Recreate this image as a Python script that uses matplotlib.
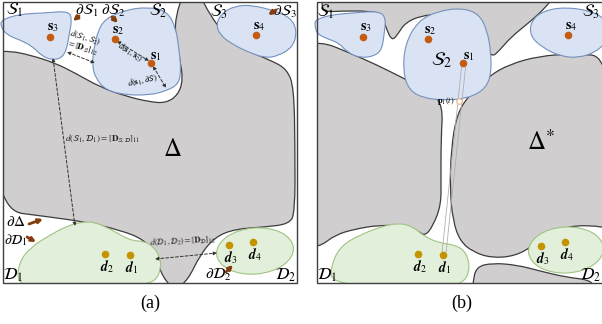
import matplotlib
matplotlib.use("Agg")
import matplotlib.pyplot as plt
import numpy as np
from matplotlib.path import Path
from matplotlib.patches import PathPatch, Ellipse, Rectangle

plt.rcParams["mathtext.fontset"] = "stix"
plt.rcParams["font.family"] = ["Liberation Serif", "DejaVu Serif"]

# --- shapes (pixel coordinates, y downwards) -------------------------------
frame_a = (3, 2, 294, 281)
frame_b = (317, 2, 290, 281)

delta_a = [(-5, 52), (10, 51), (30, 55), (55, 63), (75, 73), (100, 87), (125, 96),
           (150, 102), (166, 103), (178, 95), (183, 80), (180, 60), (175, 35),
           (176, 15), (183, -5), (200, -5), (210, 15), (225, 35), (245, 50),
           (270, 60), (287, 69), (294, 88), (295, 150), (295, 213), (289, 224),
           (265, 227), (235, 229), (215, 237), (200, 255), (188, 280), (175, 290),
           (163, 278), (155, 255), (145, 240), (120, 230), (85, 222), (50, 217),
           (-5, 210)]
S1_a = [(1, 20), (20, 14), (45, 13), (69, 11), (72, 20), (69, 35), (67, 48),
        (62, 58), (52, 60), (42, 56), (32, 46), (20, 40), (7, 35), (1, 27)]
S2_a = [(105, 19), (125, 10), (148, 7), (167, 11), (176, 28), (179, 50),
        (181, 68), (179, 84), (166, 91), (150, 95), (125, 95), (106, 90),
        (96, 79), (92, 65), (94, 48), (98, 31)]
S3_a = [(222, 13), (235, 6), (252, 5), (275, 11), (291, 18), (297, 31),
        (293, 47), (278, 56), (265, 58), (248, 52), (232, 44), (220, 35),
        (216, 24)]
D1_a = [(17, 284), (19, 262), (31, 247), (50, 235), (67, 226), (82, 222),
        (95, 222), (112, 230), (124, 237), (134, 241), (143, 241), (153, 246),
        (160, 257), (161, 268), (156, 281), (140, 285), (100, 286), (40, 286)]
D2_a = (255, 251, 77, 46, -5)

gray_top_b = [(322, 9), (322, -6), (556, -6), (546, 7), (531, 21), (511, 37),
              (499, 51), (492, 57), (485, 46), (481, 28), (476, 16), (465, 13),
              (440, 14), (420, 16), (405, 23), (398, 34), (392, 41), (386, 28),
              (382, 14), (370, 11), (340, 11), (327, 12)]
gray_left_b = [(310, 44), (325, 43), (345, 51), (375, 64), (405, 79), (430, 92),
               (443, 105), (441, 140), (441, 180), (441, 205), (433, 226),
               (425, 236), (418, 231), (405, 226), (380, 225), (355, 229),
               (335, 235), (321, 246), (310, 246)]
gray_right_b = [(451, 150), (457, 113), (471, 93), (489, 76), (510, 64),
                (540, 56), (570, 54), (612, 56), (612, 229), (590, 225),
                (565, 227), (548, 233), (533, 246), (515, 256), (492, 258),
                (473, 252), (460, 241), (453, 221), (450, 190)]
gray_bot_b = [(473, 283), (476, 267), (492, 263), (517, 265), (540, 271),
              (565, 277), (590, 280), (594, 287), (473, 287)]
S1_b = [(315, 20), (330, 15), (352, 13), (379, 11), (386, 18), (384, 35),
        (382, 49), (375, 56), (360, 58), (347, 52), (339, 43), (328, 39),
        (317, 34), (315, 26)]
S2_b = [(418, 21), (438, 11), (462, 8), (479, 14), (487, 30), (491, 52),
        (491, 77), (483, 91), (465, 99), (443, 100), (423, 98), (409, 90),
        (403, 72), (405, 44)]
S3_b = [(531, 21), (543, 11), (565, 7), (591, 11), (607, 20), (607, 41),
        (596, 52), (578, 58), (560, 56), (543, 48), (530, 36)]
D1_b = [(330, 284), (332, 262), (342, 245), (360, 235), (380, 227), (398, 223),
        (412, 226), (425, 237), (440, 243), (455, 245), (465, 251), (470, 265),
        (466, 281), (450, 286), (400, 286)]
D2_b = (566, 250, 75, 46, -3)

# points
s_a = [(50, 37), (115, 39), (151, 63), (256, 35)]
s_a_names = ["3", "2", "1", "4"]
s_a_lab = [(53, 28), (118, 31), (156, 57), (259, 27)]
d_a = [(105, 254), (130, 255), (229, 245), (253, 242)]
d_a_names = ["2", "1", "3", "4"]
s_b = [(363, 37), (428, 39), (463, 63), (568, 35)]
s_b_names = ["3", "2", "1", "4"]
s_b_lab = [(366, 28), (430, 31), (469, 57), (571, 27)]
d_b = [(418, 254), (443, 255), (541, 246), (565, 242)]
d_b_names = ["2", "1", "3", "4"]

GRAY, GRAY_EDGE = "#d0cece", "#3c3c3c"
BLUE, BLUE_EDGE = "#dae3f3", "#7391bf"
GREEN, GREEN_EDGE = "#e2efda", "#a0c383"
S_DOT, D_DOT, BROWN = "#c55a11", "#c49400", "#843c0c"


def blob(pts):
    pts = np.asarray(pts, float)
    mids = (pts + np.roll(pts, -1, axis=0)) / 2
    verts, codes = [mids[-1]], [Path.MOVETO]
    for p, m in zip(pts, mids):
        verts += [p, m]
        codes += [Path.CURVE3, Path.CURVE3]
    verts.append(mids[-1])
    codes.append(Path.CLOSEPOLY)
    return Path(verts, codes)


fig = plt.figure(figsize=(6.02, 3.24), dpi=100)
ax = fig.add_axes([0, 0, 1, 1])
ax.set_xlim(0, 602)
ax.set_ylim(324, 0)
ax.axis("off")

for fr, grays, blues, greens, ell in (
    (frame_a, [delta_a], [S1_a, S2_a, S3_a], [D1_a], D2_a),
    (frame_b, [gray_top_b, gray_left_b, gray_right_b, gray_bot_b],
     [S1_b, S2_b, S3_b], [D1_b], D2_b),
):
    rect = Rectangle(fr[:2], fr[2], fr[3], fc="white", ec="none")
    ax.add_patch(rect)
    for g in grays:
        p = PathPatch(blob(g), fc=GRAY, ec=GRAY_EDGE, lw=0.9)
        ax.add_patch(p)
        p.set_clip_path(rect)
    for b in blues:
        ax.add_patch(PathPatch(blob(b), fc=BLUE, ec=BLUE_EDGE, lw=0.8))
    for g in greens:
        p = PathPatch(blob(g), fc=GREEN, ec=GREEN_EDGE, lw=0.8)
        ax.add_patch(p)
        p.set_clip_path(rect)
    e = Ellipse(ell[:2], ell[2], ell[3], angle=ell[4], fc=GREEN, ec=GREEN_EDGE, lw=0.8)
    ax.add_patch(e)
    e.set_clip_path(rect)
    ax.add_patch(Rectangle(fr[:2], fr[2], fr[3], fc="none", ec="#404040", lw=1.0))

# s1 -> d1 paths in (b), drawn before dots
ax.plot([462, 442], [63, 253], color="#b0b0b0", lw=0.6)
ax.plot([466, 446], [63, 253], color="#b0b0b0", lw=0.6)
ax.plot([459], [101], "o", ms=4, mfc="white", mec="#f4b183", mew=0.8)
ax.text(446, 101, r"$\mathbf{p}_1(t)$", fontsize=6, ha="center", va="center")

for pts, names, labs in ((s_a, s_a_names, s_a_lab), (s_b, s_b_names, s_b_lab)):
    xs, ys = zip(*pts)
    ax.scatter(xs, ys, s=30, color=S_DOT, zorder=5, lw=0)
    for (lx, ly), n in zip(labs, names):
        ax.text(lx, ly, r"$\mathbf{s}_%s$" % n, fontsize=10, ha="center", va="center")
for pts, names in ((d_a, d_a_names), (d_b, d_b_names)):
    xs, ys = zip(*pts)
    ax.scatter(xs, ys, s=30, color=D_DOT, zorder=5, lw=0)
    for (x, y), n in zip(pts, names):
        ax.text(x + 2, y + 13, r"$\mathbfit{d}_%s$" % n, fontsize=10, ha="center", va="center")

# region labels
labels = [
    (15, 10, r"$\mathcal{S}_1$", 12), (87, 11, r"$\partial\mathcal{S}_1$", 11),
    (113, 11, r"$\partial\mathcal{S}_2$", 11), (158, 11, r"$\mathcal{S}_2$", 12),
    (219, 12, r"$\mathcal{S}_3$", 12), (285, 12, r"$\partial\mathcal{S}_3$", 11),
    (16, 222, r"$\partial\Delta$", 11), (16, 240, r"$\partial\mathcal{D}_1$", 10),
    (13, 275, r"$\mathcal{D}_1$", 12), (218, 275, r"$\partial\mathcal{D}_2$", 11),
    (286, 275, r"$\mathcal{D}_2$", 12),
    (326, 12, r"$\mathcal{S}_1$", 12), (442, 60, r"$\mathcal{S}_2$", 14),
    (591, 12, r"$\mathcal{S}_3$", 12), (327, 275, r"$\mathcal{D}_1$", 12),
    (591, 275, r"$\mathcal{D}_2$", 12),
]
for x, y, t, fs in labels:
    ax.text(x, y, t, fontsize=fs, ha="center", va="center")
ax.text(172, 150, r"$\Delta$", fontsize=18, ha="center", va="center")
ax.text(541, 142, r"$\Delta^{*}$", fontsize=18, ha="center", va="center")

# brown pointer arrows
brown_arrows = [((79, 16), (73, 21)), ((112, 17), (118, 23)), ((276, 10), (268, 15)),
                ((29, 224), (43, 219)), ((27, 237), (36, 242)), ((226, 272), (233, 265))]
for tail, tip in brown_arrows:
    ax.annotate("", xy=tip, xytext=tail,
                arrowprops=dict(arrowstyle="-|>", color=BROWN, lw=2.0, mutation_scale=6,
                                shrinkA=0, shrinkB=0))

# dashed distance arrows
dashed = [((53, 58), (75, 226)), ((67, 52), (95, 63)), ((117, 41), (149, 61)),
          ((153, 66), (166, 88)), ((155, 259), (217, 253))]
for a, b in dashed:
    ax.annotate("", xy=b, xytext=a,
                arrowprops=dict(arrowstyle="<|-|>", color="#333333", lw=0.7, ls=(0, (3, 2)),
                                mutation_scale=5, shrinkA=0, shrinkB=0))

ax.text(103, 139, r"$d(\mathcal{S}_1,\mathcal{D}_1)=[\mathbf{D}_{\mathcal{S},\mathcal{D}}]_{11}$",
        fontsize=6.5, ha="center", va="center", color="#222222")
ax.text(183, 241, r"$d(\mathcal{D}_1,\mathcal{D}_2)=[\mathbf{D}_{\mathcal{D}}]_{12}$",
        fontsize=6, ha="center", va="center", rotation=3, color="#222222")
ax.text(84, 43, r"$d(\mathcal{S}_1,\mathcal{S}_2)$" "\n" r"$=[\mathbf{D}_{\mathcal{S}}]_{12}$",
        fontsize=6, ha="center", va="center", rotation=-17, linespacing=1.0)
ax.text(130, 53, r"$d(\mathbf{s}_1,\mathbf{s}_2)$", fontsize=6, ha="center", va="center",
        rotation=-33)
ax.text(143, 81, r"$d(\mathbf{s}_1,\partial\mathcal{S})$", fontsize=6, ha="center",
        va="center", rotation=12)

ax.text(150, 303, "(a)", fontsize=13, ha="center", va="center")
ax.text(462, 303, "(b)", fontsize=13, ha="center", va="center")

fig.savefig("out.png", dpi=100)
